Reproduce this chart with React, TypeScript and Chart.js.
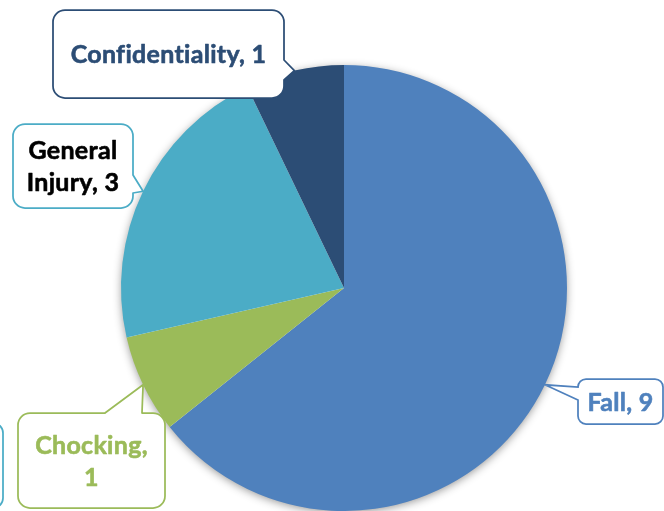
import React, { useEffect, useRef } from "react";
import { Chart, registerables } from "chart.js";

Chart.register(...registerables);

const categories = ["Fall", "Chocking", "General Injury", "Confidentiality"];
const values = [9, 1, 3, 1];
const sliceColors = ["#4F81BD", "#9BBB59", "#4BACC6", "#2C4D75"];
const labelTextColors = ["#4F81BD", "#9BBB59", "#000000", "#2C4D75"];
const labelWrap = [false, true, true, false];

type Box = { x: number; y: number; w: number; h: number; side: "left" | "right" | "top" | "bottom"; base: [number, number]; r: number };
const calloutBoxes: Box[] = [
  { x: 578, y: 379, w: 85, h: 45, side: "left", base: [387, 400], r: 8 },
  { x: 18, y: 413, w: 147, h: 95, side: "top", base: [105, 142], r: 12 },
  { x: 13, y: 124, w: 120, h: 84, side: "right", base: [175, 193], r: 12 },
  { x: 53, y: 10, w: 231, h: 88, side: "right", base: [60, 80], r: 12 },
];

function labelLines(i: number): string[] {
  const t = `${categories[i]}, ${values[i]}`;
  if (!labelWrap[i]) return [t];
  const k = t.indexOf(" ");
  return [t.slice(0, k), t.slice(k + 1)];
}

function calloutPath(ctx: CanvasRenderingContext2D, b: Box, tx: number, ty: number) {
  const { x, y, w, h, r, side, base } = b;
  ctx.beginPath();
  ctx.moveTo(x + r, y);
  if (side === "top") {
    ctx.lineTo(base[0], y);
    ctx.lineTo(tx, ty);
    ctx.lineTo(base[1], y);
  }
  ctx.arcTo(x + w, y, x + w, y + h, r);
  if (side === "right") {
    ctx.lineTo(x + w, base[0]);
    ctx.lineTo(tx, ty);
    ctx.lineTo(x + w, base[1]);
  }
  ctx.arcTo(x + w, y + h, x, y + h, r);
  if (side === "bottom") {
    ctx.lineTo(base[1], y + h);
    ctx.lineTo(tx, ty);
    ctx.lineTo(base[0], y + h);
  }
  ctx.arcTo(x, y + h, x, y, r);
  if (side === "left") {
    ctx.lineTo(x, base[1]);
    ctx.lineTo(tx, ty);
    ctx.lineTo(x, base[0]);
  }
  ctx.arcTo(x, y, x + w, y, r);
  ctx.closePath();
}

const shadowPlugin = {
  id: "pieShadow",
  beforeDatasetsDraw(chart: any) {
    const arc = chart.getDatasetMeta(0).data[0];
    if (!arc) return;
    const ctx = chart.ctx as CanvasRenderingContext2D;
    ctx.save();
    ctx.shadowColor = "rgba(0,0,0,0.45)";
    ctx.shadowBlur = 10;
    ctx.shadowOffsetX = 0;
    ctx.shadowOffsetY = 2;
    ctx.fillStyle = "#ffffff";
    ctx.beginPath();
    ctx.arc(arc.x, arc.y, arc.outerRadius - 1, 0, Math.PI * 2);
    ctx.fill();
    ctx.restore();
  },
};

const calloutPlugin = {
  id: "callouts",
  afterDraw(chart: any) {
    const ctx = chart.ctx as any;
    const meta = chart.getDatasetMeta(0);
    ctx.save();
    try {
      ctx.letterSpacing = "0.3px";
    } catch (e) {}
    ctx.font = "bold 20px Lato";
    const ref = ctx.measureText("Confidentiality, 1").width;
    const size = (20 * 197) / ref;
    ctx.font = `bold ${size}px Lato`;
    const capH = ctx.measureText("H").actualBoundingBoxAscent;
    const lineH = 32;

    // partially visible box at the left edge
    ctx.lineWidth = 1.75;
    ctx.strokeStyle = "#4BACC6";
    ctx.fillStyle = "#ffffff";
    calloutPath(ctx, { x: -60, y: 423, w: 63, h: 85, side: "bottom", base: [-40, -30], r: 10 }, -35, 508);
    ctx.fill();
    ctx.stroke();

    meta.data.forEach((arc: any, i: number) => {
      const b = calloutBoxes[i];
      const mid = (arc.startAngle + arc.endAngle) / 2;
      const tx = arc.x + Math.cos(mid) * arc.outerRadius;
      const ty = arc.y + Math.sin(mid) * arc.outerRadius;
      ctx.lineWidth = 1.75;
      ctx.strokeStyle = sliceColors[i];
      ctx.fillStyle = "#ffffff";
      calloutPath(ctx, b, tx, ty);
      ctx.fill();
      ctx.stroke();

      const lines = labelLines(i);
      const cx = b.x + b.w / 2;
      const cy = b.y + b.h / 2;
      ctx.fillStyle = labelTextColors[i];
      ctx.strokeStyle = labelTextColors[i];
      ctx.lineWidth = 0.6;
      ctx.lineJoin = "round";
      ctx.textAlign = "center";
      ctx.textBaseline = "alphabetic";
      lines.forEach((ln, k) => {
        const capCenter = cy + (k - (lines.length - 1) / 2) * lineH;
        ctx.fillText(ln, cx, capCenter + capH / 2);
        ctx.strokeText(ln, cx, capCenter + capH / 2);
      });
    });
    ctx.restore();
  },
};

export default function App() {
  const ref = useRef<HTMLCanvasElement | null>(null);
  useEffect(() => {
    if (!ref.current) return;
    const chart = new Chart(ref.current, {
      type: "pie",
      data: {
        labels: categories,
        datasets: [
          {
            data: values,
            backgroundColor: sliceColors,
            borderWidth: 0,
          },
        ],
      },
      options: {
        responsive: false,
        animation: false,
        layout: { padding: { top: 65, bottom: 0, left: 121, right: 97 } },
        plugins: {
          legend: { display: false },
          tooltip: { enabled: false },
        },
      },
      plugins: [shadowPlugin, calloutPlugin],
    });
    return () => chart.destroy();
  }, []);
  return (
    <div style={{ position: "fixed", left: 0, top: 0, width: 664, height: 511, background: "#ffffff" }}>
      <canvas ref={ref} width={664} height={511} style={{ display: "block" }} />
    </div>
  );
}
